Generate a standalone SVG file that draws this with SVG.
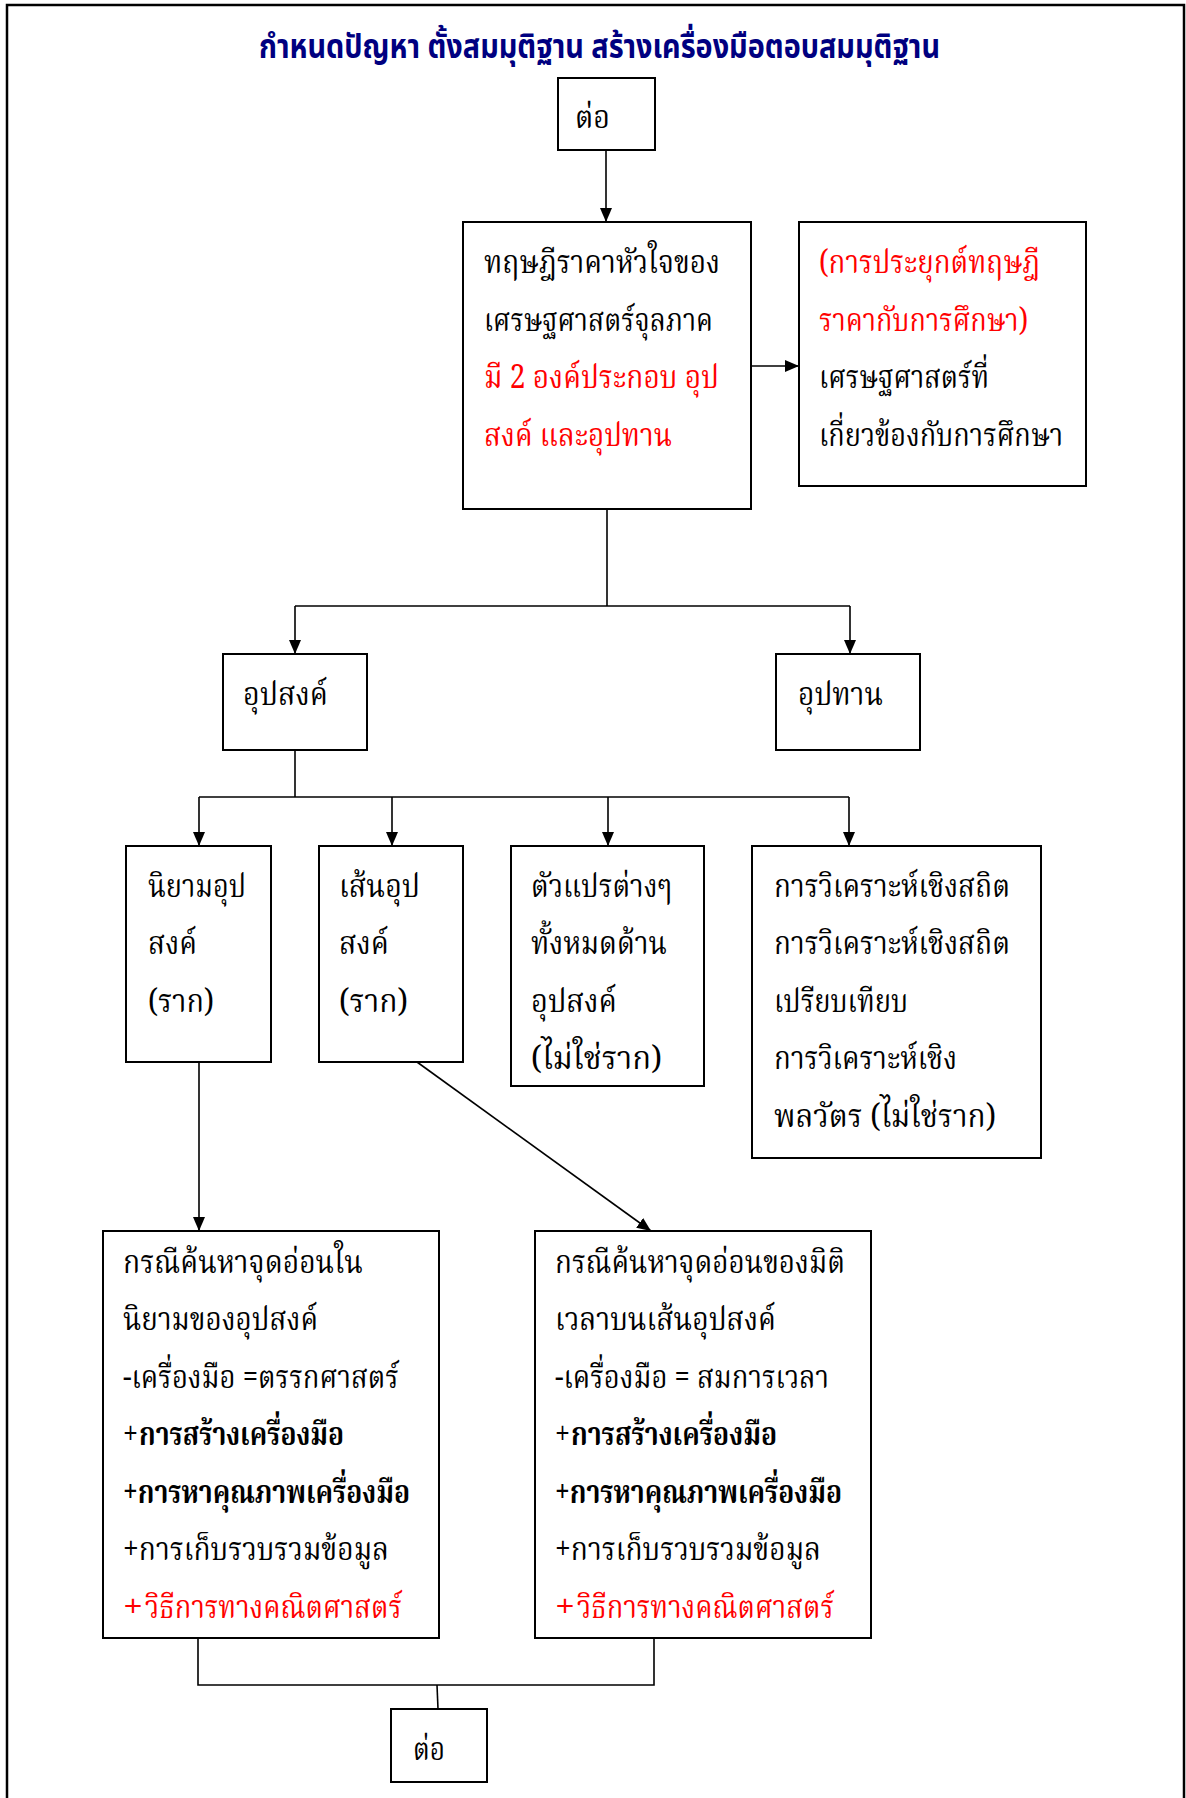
<svg xmlns="http://www.w3.org/2000/svg" width="1186" height="1798" viewBox="0 0 1186 1798">
  <defs>
    <marker id="arr" markerUnits="userSpaceOnUse" markerWidth="14" markerHeight="14" refX="14" refY="7" orient="auto">
      <path d="M0,1 L14,7 L0,13 Z" fill="#000"/>
    </marker>
    <style>
      .frame { fill: #fff; stroke: #000; stroke-width: 2.5; }
      .box { fill: #fff; stroke: #000; stroke-width: 2; }
      .ln { fill: none; stroke: #000; stroke-width: 1.6; }
      .t { font-family: "Noto Serif Thai", "Liberation Serif", serif; font-size: 32px; fill: #000; }
      .red { fill: #ff0000; }
      .b { font-weight: bold; }
      .title { font-family: "Noto Sans Thai", "Liberation Sans", sans-serif; font-size: 33px; font-weight: bold; fill: #000080; }
    </style>
  </defs>

  <rect class="frame" x="7" y="5" width="1177" height="1800"/>

  <text class="title" x="259" y="58" textLength="681" lengthAdjust="spacingAndGlyphs">กำหนดปัญหา ตั้งสมมุติฐาน สร้างเครื่องมือตอบสมมุติฐาน</text>

  <!-- connectors -->
  <g id="connectors">
    <line class="ln" x1="606" y1="150" x2="606" y2="222" marker-end="url(#arr)"/>
    <line class="ln" x1="751" y1="366" x2="799" y2="366" marker-end="url(#arr)"/>
    <polyline class="ln" points="607,509 607,606"/>
    <polyline class="ln" points="295,606 850,606"/>
    <line class="ln" x1="295" y1="606" x2="295" y2="654" marker-end="url(#arr)"/>
    <line class="ln" x1="850" y1="606" x2="850" y2="654" marker-end="url(#arr)"/>
    <polyline class="ln" points="295,750 295,797"/>
    <polyline class="ln" points="199,797 849,797"/>
    <line class="ln" x1="199" y1="797" x2="199" y2="846" marker-end="url(#arr)"/>
    <line class="ln" x1="392" y1="797" x2="392" y2="846" marker-end="url(#arr)"/>
    <line class="ln" x1="608" y1="797" x2="608" y2="846" marker-end="url(#arr)"/>
    <line class="ln" x1="849" y1="797" x2="849" y2="846" marker-end="url(#arr)"/>
    <line class="ln" x1="199" y1="1062" x2="199" y2="1231" marker-end="url(#arr)"/>
    <line class="ln" x1="417" y1="1062" x2="651" y2="1231" marker-end="url(#arr)"/>
    <polyline class="ln" points="198,1638 198,1685 654,1685 654,1638"/>
    <polyline class="ln" points="437,1685 438,1709"/>
  </g>

  <!-- top continuation -->
  <g id="cont-top">
    <rect class="box" x="558" y="78" width="97" height="72"/>
    <text class="t" x="575" y="128" textLength="35" lengthAdjust="spacingAndGlyphs">ต่อ</text>
  </g>

  <g id="price-theory">
    <rect class="box" x="463" y="222" width="288" height="287"/>
    <text class="t" x="484" y="273" textLength="236" lengthAdjust="spacingAndGlyphs">ทฤษฎีราคาหัวใจของ</text>
    <text class="t" x="484" y="331" textLength="229" lengthAdjust="spacingAndGlyphs">เศรษฐศาสตร์จุลภาค</text>
    <text class="t red" x="484" y="388" textLength="235" lengthAdjust="spacingAndGlyphs">มี 2 องค์ประกอบ อุป</text>
    <text class="t red" x="484" y="446" textLength="188" lengthAdjust="spacingAndGlyphs">สงค์ และอุปทาน</text>
  </g>

  <g id="education-econ">
    <rect class="box" x="799" y="222" width="287" height="264"/>
    <text class="t red" x="819" y="273" textLength="221" lengthAdjust="spacingAndGlyphs">(การประยุกต์ทฤษฎี</text>
    <text class="t red" x="819" y="331" textLength="209" lengthAdjust="spacingAndGlyphs">ราคากับการศึกษา)</text>
    <text class="t" x="819" y="388" textLength="170" lengthAdjust="spacingAndGlyphs">เศรษฐศาสตร์ที่</text>
    <text class="t" x="819" y="446" textLength="244" lengthAdjust="spacingAndGlyphs">เกี่ยวข้องกับการศึกษา</text>
  </g>

  <g id="demand">
    <rect class="box" x="223" y="654" width="144" height="96"/>
    <text class="t" x="243" y="705" textLength="85" lengthAdjust="spacingAndGlyphs">อุปสงค์</text>
  </g>

  <g id="supply">
    <rect class="box" x="776" y="654" width="144" height="96"/>
    <text class="t" x="798" y="705" textLength="85" lengthAdjust="spacingAndGlyphs">อุปทาน</text>
  </g>

  <g id="demand-definition">
    <rect class="box" x="126" y="846" width="145" height="216"/>
    <text class="t" x="148" y="897" textLength="98" lengthAdjust="spacingAndGlyphs">นิยามอุป</text>
    <text class="t" x="148" y="954" textLength="49" lengthAdjust="spacingAndGlyphs">สงค์</text>
    <text class="t" x="148" y="1012" textLength="66" lengthAdjust="spacingAndGlyphs">(ราก)</text>
  </g>

  <g id="demand-curve">
    <rect class="box" x="319" y="846" width="144" height="216"/>
    <text class="t" x="339" y="897" textLength="81" lengthAdjust="spacingAndGlyphs">เส้นอุป</text>
    <text class="t" x="339" y="954" textLength="50" lengthAdjust="spacingAndGlyphs">สงค์</text>
    <text class="t" x="339" y="1012" textLength="69" lengthAdjust="spacingAndGlyphs">(ราก)</text>
  </g>

  <g id="demand-variables">
    <rect class="box" x="511" y="846" width="193" height="240"/>
    <text class="t" x="531" y="897" textLength="141" lengthAdjust="spacingAndGlyphs">ตัวแปรต่างๆ</text>
    <text class="t" x="531" y="954" textLength="136" lengthAdjust="spacingAndGlyphs">ทั้งหมดด้าน</text>
    <text class="t" x="531" y="1012" textLength="86" lengthAdjust="spacingAndGlyphs">อุปสงค์</text>
    <text class="t" x="531" y="1069" textLength="131" lengthAdjust="spacingAndGlyphs">(ไม่ใช่ราก)</text>
  </g>

  <g id="analysis">
    <rect class="box" x="752" y="846" width="289" height="312"/>
    <text class="t" x="774" y="897" textLength="236" lengthAdjust="spacingAndGlyphs">การวิเคราะห์เชิงสถิต</text>
    <text class="t" x="774" y="954" textLength="236" lengthAdjust="spacingAndGlyphs">การวิเคราะห์เชิงสถิต</text>
    <text class="t" x="774" y="1012" textLength="134" lengthAdjust="spacingAndGlyphs">เปรียบเทียบ</text>
    <text class="t" x="774" y="1069" textLength="183" lengthAdjust="spacingAndGlyphs">การวิเคราะห์เชิง</text>
    <text class="t" x="774" y="1127" textLength="222" lengthAdjust="spacingAndGlyphs">พลวัตร (ไม่ใช่ราก)</text>
  </g>

  <g id="definition-case">
    <rect class="box" x="103" y="1231" width="336" height="407"/>
    <text class="t" x="123" y="1273" textLength="240" lengthAdjust="spacingAndGlyphs">กรณีค้นหาจุดอ่อนใน</text>
    <text class="t" x="123" y="1330" textLength="195" lengthAdjust="spacingAndGlyphs">นิยามของอุปสงค์</text>
    <text class="t" x="123" y="1388" textLength="276" lengthAdjust="spacingAndGlyphs">-เครื่องมือ =ตรรกศาสตร์</text>
    <text class="t" y="1445"><tspan x="123" textLength="15" lengthAdjust="spacingAndGlyphs">+</tspan><tspan class="b" x="139" textLength="205" lengthAdjust="spacingAndGlyphs">การสร้างเครื่องมือ</tspan></text>
    <text class="t b" x="123" y="1503" textLength="287" lengthAdjust="spacingAndGlyphs">+การหาคุณภาพเครื่องมือ</text>
    <text class="t" x="123" y="1560" textLength="266" lengthAdjust="spacingAndGlyphs">+การเก็บรวบรวมข้อมูล</text>
    <text class="t red" y="1618"><tspan x="123" textLength="20" lengthAdjust="spacingAndGlyphs">+</tspan><tspan x="145" textLength="257" lengthAdjust="spacingAndGlyphs">วิธีการทางคณิตศาสตร์</tspan></text>
  </g>

  <g id="time-case">
    <rect class="box" x="535" y="1231" width="336" height="407"/>
    <text class="t" x="555" y="1273" textLength="290" lengthAdjust="spacingAndGlyphs">กรณีค้นหาจุดอ่อนของมิติ</text>
    <text class="t" x="555" y="1330" textLength="221" lengthAdjust="spacingAndGlyphs">เวลาบนเส้นอุปสงค์</text>
    <text class="t" x="555" y="1388" textLength="274" lengthAdjust="spacingAndGlyphs">-เครื่องมือ = สมการเวลา</text>
    <text class="t" y="1445"><tspan x="555" textLength="15" lengthAdjust="spacingAndGlyphs">+</tspan><tspan class="b" x="571" textLength="206" lengthAdjust="spacingAndGlyphs">การสร้างเครื่องมือ</tspan></text>
    <text class="t b" x="555" y="1503" textLength="287" lengthAdjust="spacingAndGlyphs">+การหาคุณภาพเครื่องมือ</text>
    <text class="t" x="555" y="1560" textLength="266" lengthAdjust="spacingAndGlyphs">+การเก็บรวบรวมข้อมูล</text>
    <text class="t red" y="1618"><tspan x="555" textLength="20" lengthAdjust="spacingAndGlyphs">+</tspan><tspan x="577" textLength="257" lengthAdjust="spacingAndGlyphs">วิธีการทางคณิตศาสตร์</tspan></text>
  </g>

  <!-- bottom continuation -->
  <g id="cont-bottom">
    <rect class="box" x="391" y="1709" width="96" height="73"/>
    <text class="t" x="413" y="1760" textLength="32" lengthAdjust="spacingAndGlyphs">ต่อ</text>
  </g>
</svg>
